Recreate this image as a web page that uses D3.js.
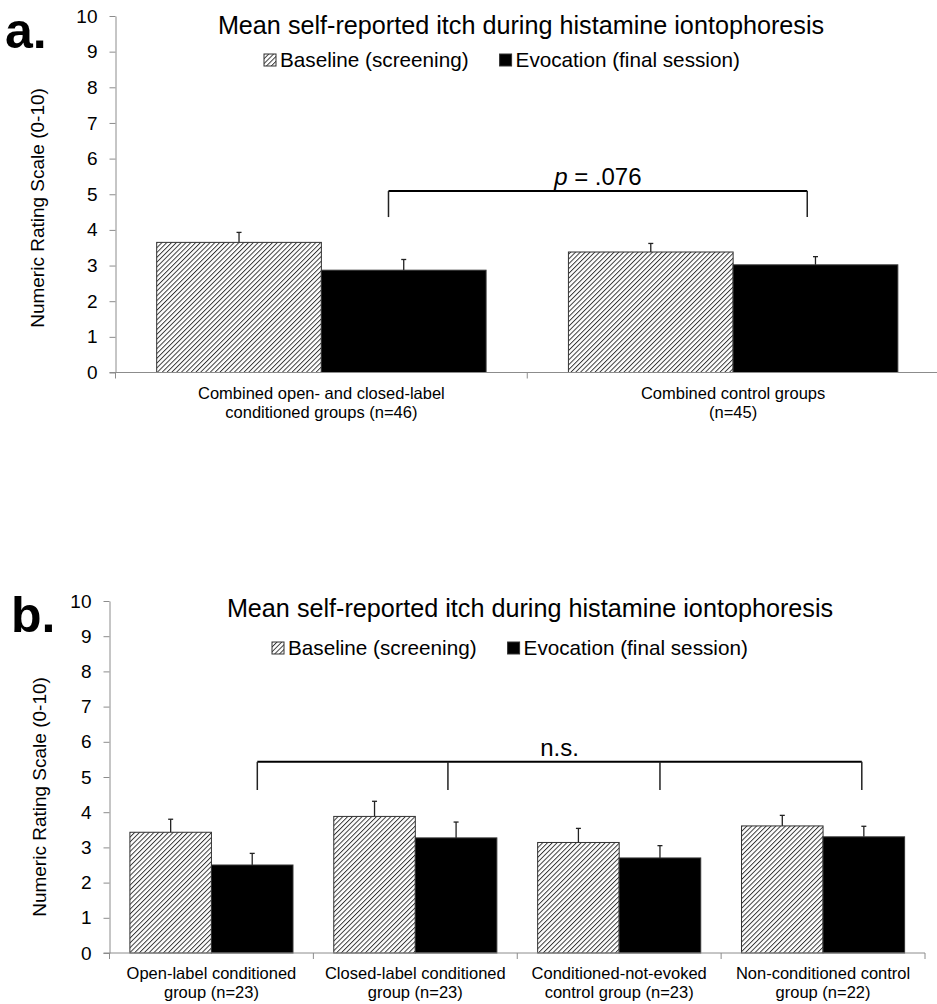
<!DOCTYPE html>
<html>
<head>
<meta charset="utf-8">
<script src="https://cdn.jsdelivr.net/npm/d3@7"></script>
<style>
body{margin:0;background:#fff;}
text{font-family:"Liberation Sans",Arial,sans-serif;fill:#000;}
</style>
</head>
<body>
<script>
// values
var seriesNames=["Baseline (screening)","Evocation (final session)"];
var yTicks=[0,1,2,3,4,5,6,7,8,9,10];

var catsA=[["Combined open- and closed-label","conditioned groups (n=46)"],["Combined control groups","(n=45)"]];
var baseA=[3.65,3.38];
var baseErrA=[0.28,0.24];
var evocA=[2.87,3.02];
var evocErrA=[0.30,0.23];

var catsB=[["Open-label conditioned","group (n=23)"],["Closed-label conditioned","group (n=23)"],["Conditioned-not-evoked","control group (n=23)"],["Non-conditioned control","group (n=22)"]];
var baseB=[3.43,3.88,3.14,3.61];
var baseErrB=[0.37,0.43,0.40,0.30];
var evocB=[2.50,3.27,2.70,3.30];
var evocErrB=[0.33,0.45,0.35,0.30];

var width=937, height=1004;

var svg=d3.select("body").append("svg")
	.attr("width",width)
	.attr("height",height);

var hs=3.4;
svg.append("defs").append("pattern")
	.attr("id","hatch")
	.attr("patternUnits","userSpaceOnUse")
	.attr("width",hs)
	.attr("height",hs)
	.attr("patternTransform","rotate(45)")
	.call(p=>{
		p.append("rect").attr("width",hs).attr("height",hs).attr("fill","#fff");
		p.append("line").attr("x1",0).attr("y1",0).attr("x2",0).attr("y2",hs)
			.attr("stroke","#333").attr("stroke-width",1.9);
	});

var fills=["url(#hatch)","#000"];

function drawPanel(cfg)
{
	var g=svg.append("g");
	var n=cfg.cats.length;

	var scaley=d3.scaleLinear().domain([0,10]).range([cfg.bottom,cfg.top]);
	var scalex=d3.scaleBand().domain(d3.range(n)).range([cfg.left,cfg.right]).padding(0);
	var sub=d3.scaleBand().domain([0,1]).range([0,scalex.bandwidth()]).paddingInner(0).paddingOuter(0.25);
	var pos=d3.scaleLinear().domain([0,n]).range([cfg.left,cfg.right]);

	var rows=[];
	cfg.cats.forEach((c,i)=>{
		rows.push({cat:i,s:0,v:cfg.base[i],e:cfg.baseErr[i]});
		rows.push({cat:i,s:1,v:cfg.evoc[i],e:cfg.evocErr[i]});
	});

	// error bars (upper only)
	var eb=g.selectAll(".err").data(rows).enter().append("g").attr("class","err");
	eb.append("line")
		.attr("x1",d=>scalex(d.cat)+sub(d.s)+sub.bandwidth()/2)
		.attr("x2",d=>scalex(d.cat)+sub(d.s)+sub.bandwidth()/2)
		.attr("y1",d=>scaley(d.v))
		.attr("y2",d=>scaley(d.v+d.e))
		.attr("stroke","#222").attr("stroke-width",1.3);
	eb.append("line")
		.attr("x1",d=>scalex(d.cat)+sub(d.s)+sub.bandwidth()/2-2.5)
		.attr("x2",d=>scalex(d.cat)+sub(d.s)+sub.bandwidth()/2+2.5)
		.attr("y1",d=>scaley(d.v+d.e))
		.attr("y2",d=>scaley(d.v+d.e))
		.attr("stroke","#222").attr("stroke-width",1.3);

	g.selectAll(".bar").data(rows).enter().append("rect")
		.attr("class","bar")
		.attr("x",d=>scalex(d.cat)+sub(d.s))
		.attr("y",d=>scaley(d.v))
		.attr("width",sub.bandwidth())
		.attr("height",d=>scaley(0)-scaley(d.v))
		.attr("fill",d=>fills[d.s])
		.attr("stroke","#333")
		.attr("stroke-width",1);

	// axes
	var yaxis=d3.axisLeft(scaley).tickValues(yTicks).tickSize(6).tickPadding(12).tickSizeOuter(0);
	var ya=g.append("g").attr("transform","translate("+cfg.left+",0)").call(yaxis);
	ya.select(".domain").attr("stroke","#8c8c8c");
	ya.selectAll(".tick line").attr("stroke","#8c8c8c");
	ya.selectAll(".tick text").style("font-size","19px").style("font-family","Liberation Sans, Arial, sans-serif");

	var xa=g.append("g").attr("transform","translate(0,"+cfg.bottom+")");
	xa.append("line").attr("x1",cfg.left-6).attr("x2",cfg.right).attr("y1",0).attr("y2",0)
		.attr("stroke","#8c8c8c");
	xa.selectAll(".xt").data(d3.range(n+1)).enter().append("line")
		.attr("x1",d=>pos(d)).attr("x2",d=>pos(d))
		.attr("y1",0).attr("y2",6)
		.attr("stroke","#8c8c8c");

	var labs=g.selectAll(".cl").data(cfg.cats).enter().append("text")
		.attr("text-anchor","middle")
		.style("font-size","16.5px");
	labs.append("tspan")
		.attr("x",(d,i)=>scalex(i)+scalex.bandwidth()/2)
		.attr("y",cfg.labelY)
		.text(d=>d[0]);
	labs.append("tspan")
		.attr("x",(d,i)=>scalex(i)+scalex.bandwidth()/2)
		.attr("y",cfg.labelY+cfg.labelGap)
		.text(d=>d[1]);

	// bracket
	var bx=cfg.bracket.map(d=>pos(d));
	g.append("line")
		.attr("x1",bx[0]).attr("x2",bx[bx.length-1])
		.attr("y1",scaley(cfg.bracketY)).attr("y2",scaley(cfg.bracketY))
		.attr("stroke","#000").attr("stroke-width",2);
	g.selectAll(".bt").data(bx).enter().append("line")
		.attr("x1",d=>d).attr("x2",d=>d)
		.attr("y1",scaley(cfg.bracketY)).attr("y2",scaley(cfg.bracketLow))
		.attr("stroke","#222").attr("stroke-width",1.5);
	cfg.sig(g.append("text")
		.attr("x",(bx[0]+bx[bx.length-1])/2)
		.attr("y",scaley(cfg.bracketY)-6)
		.attr("text-anchor","middle")
		.style("font-size","24px"));

	// title + legend
	g.append("text")
		.attr("x",cfg.titleX).attr("y",cfg.titleY)
		.attr("text-anchor","middle")
		.style("font-size","25.2px")
		.text("Mean self-reported itch during histamine iontophoresis");

	var lx=cfg.legendX;
	seriesNames.forEach((s,i)=>{
		g.append("rect")
			.attr("x",lx).attr("y",cfg.legendY-13)
			.attr("width",12).attr("height",12)
			.attr("fill",fills[i]).attr("stroke","#333").attr("stroke-width",1);
		var t=g.append("text")
			.attr("x",lx+16).attr("y",cfg.legendY)
			.style("font-size","20.7px")
			.text(s);
		lx=lx+16+t.node().getComputedTextLength()+31;
	});

	g.append("text")
		.attr("transform","translate("+cfg.ylabX+","+cfg.ylabY+") rotate(-90)")
		.attr("text-anchor","middle")
		.style("font-size","19px")
		.text("Numeric Rating Scale (0-10)");

	g.append("text")
		.attr("x",cfg.letterX).attr("y",cfg.letterY)
		.style("font-size","50px").style("font-weight","bold")
		.text(cfg.letter);
}

drawPanel({
	cats:catsA, base:baseA, baseErr:baseErrA, evoc:evocA, evocErr:evocErrA,
	left:115.5, right:939, top:16, bottom:372.5,
	labelY:399, labelGap:19,
	bracket:[0.663,1.68], bracketY:5.09, bracketLow:4.36,
	sig:t=>{t.append("tspan").style("font-style","italic").text("p");t.append("tspan").text(" = .076");},
	titleX:521, titleY:34, legendX:264, legendY:67,
	ylabX:44, ylabY:208, letter:"a.", letterX:5, letterY:48
});

drawPanel({
	cats:catsB, base:baseB, baseErr:baseErrB, evoc:evocB, evocErr:evocErrB,
	left:109.5, right:925, top:601, bottom:953,
	labelY:979, labelGap:19,
	bracket:[0.725,1.66,2.70,3.69], bracketY:5.43, bracketLow:4.63,
	sig:t=>t.text("n.s."),
	titleX:530, titleY:617, legendX:272, legendY:655,
	ylabX:46, ylabY:797, letter:"b.", letterX:11, letterY:632
});
</script>
</body>
</html>
